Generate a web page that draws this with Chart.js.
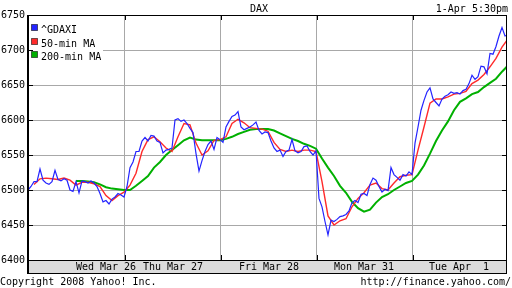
<!DOCTYPE html>
<html>
<head>
<meta charset="utf-8">
<script src="https://cdn.jsdelivr.net/npm/chart.js@4/dist/chart.umd.min.js"></script>
<style>
  html, body { margin: 0; padding: 0; background: #fff; }
</style>
</head>
<body>
<canvas id="grafico" width="512" height="288"></canvas>
<script>
// nombres de las series
var seriesNames = ["^GDAXI", "50-min MA", "200-min MA"];

// etiquetas de los días y su posición (en intervalos desde el inicio)
var dayLabels = ["Wed Mar 26", "Thu Mar 27", "Fri Mar 28", "Mon Mar 31", "Tue Apr  1"];
var dayLabelPos = [78, 145, 241, 336, 431];
var dayBreaks = [96.5, 192.5, 288.5, 384.5];
var yTicks = [6400, 6450, 6500, 6550, 6600, 6650, 6700, 6750];

// ^GDAXI, un valor cada 3 intervalos
var gdaxi = [
  6500, 6505, 6512, 6512, 6530, 6514, 6510, 6508, 6512, 6528,
  6515, 6513, 6516, 6514, 6500, 6498, 6512, 6496, 6513, 6512,
  6510, 6513, 6510, 6505, 6495, 6483, 6485, 6480, 6487, 6490,
  6495, 6493, 6490, 6505, 6532, 6540, 6555, 6555, 6570, 6575,
  6570, 6578, 6577, 6570, 6568, 6553, 6557, 6558, 6560, 6600,
  6602, 6598, 6600, 6595,
  6588, 6582, 6552, 6527, 6542, 6555, 6565, 6570, 6558, 6575,
  6572, 6568, 6590, 6598, 6605, 6607, 6612, 6590, 6586, 6588,
  6590, 6593, 6597, 6585, 6580, 6583, 6582, 6570, 6560, 6555,
  6557, 6548, 6555, 6557, 6572, 6556, 6553, 6555, 6562, 6563,
  6555, 6550, 6556, 6488, 6476, 6455, 6436, 6457, 6455, 6458,
  6462, 6463,
  6465, 6470, 6482, 6485, 6482, 6494, 6495, 6492, 6508, 6517,
  6514, 6505, 6497, 6501, 6499, 6532, 6522, 6518, 6514, 6522,
  6520, 6526, 6522, 6567, 6590, 6614, 6628, 6640, 6646, 6630,
  6625, 6620, 6630, 6634, 6636, 6640, 6638, 6639, 6637, 6642,
  6644, 6652, 6664, 6658, 6662, 6677, 6676, 6666, 6695, 6694,
  6705, 6720, 6732, 6720, 6722
];

// media móvil de 50 minutos, un valor cada 6 intervalos desde el 6
var ma50 = [
  6508, 6516, 6517, 6516, 6515, 6517, 6514, 6507, 6511, 6511,
  6509, 6505, 6492, 6485, 6492, 6497, 6507, 6524, 6555, 6572,
  6576, 6569, 6560, 6555, 6576, 6595,
  6593, 6567, 6550, 6556, 6571, 6572, 6576, 6595, 6601, 6596,
  6589, 6588, 6587, 6584, 6568, 6558, 6555, 6557, 6555, 6557,
  6557, 6555, 6512, 6463, 6450, 6456,
  6459, 6476, 6488, 6496, 6507, 6510, 6502, 6500, 6510, 6519,
  6521, 6522, 6557, 6590, 6624, 6630, 6630, 6633, 6637, 6638,
  6641, 6652, 6657, 6665, 6676, 6688, 6704, 6716
];

// media móvil de 200 minutos, un valor cada 6 intervalos desde el 48
var ma200 = [
  6513, 6513, 6512, 6511, 6508, 6504, 6502, 6501, 6500, 6500,
  6506, 6513, 6520, 6532, 6540, 6550, 6557, 6564, 6571,
  6575, 6572, 6571, 6571, 6571, 6571, 6573, 6576, 6580, 6583,
  6586, 6587, 6587, 6587, 6585, 6581, 6577, 6573, 6570, 6566,
  6563, 6559, 6545, 6532, 6520, 6506,
  6496, 6483, 6474, 6469, 6472, 6482, 6490, 6494, 6500, 6505,
  6510, 6513, 6522, 6535, 6552, 6570, 6585, 6598, 6614, 6626,
  6631, 6637, 6640, 6647, 6653, 6659, 6669, 6678
];

function puntos(valores, inicio, paso) {
  return valores.map(function (v, i) {
    return { x: inicio + i * paso, y: v };
  });
}

var fuente = { family: "'DejaVu Sans Mono', monospace", size: 10 };
var colores = ["#2424ff", "#ff2a2a", "#00b000"];

// marco, banda del eje x, leyenda y textos
var marco = {
  id: "marco",
  beforeDraw: function (chart) {
    var c = chart.ctx, a = chart.chartArea;
    c.save();
    c.fillStyle = "#fff";
    c.fillRect(0, 0, chart.width, chart.height);
    c.fillStyle = "#dcdcdc";
    c.fillRect(a.left, a.bottom, a.right - a.left, 13);
    c.restore();
  },
  afterDatasetsDraw: function (chart) {
    var c = chart.ctx, a = chart.chartArea;
    var ys = chart.scales.y, xs = chart.scales.x;
    c.save();
    // leyenda
    c.fillStyle = "#fff";
    c.fillRect(a.left, a.top, 75, 47);
    c.font = "10px 'DejaVu Sans Mono', monospace";
    c.textBaseline = "alphabetic";
    for (var i = 0; i < seriesNames.length; i++) {
      var top = a.top + 9 + i * 13.5;
      c.fillStyle = colores[i];
      c.fillRect(a.left + 3.5, Math.round(top) + 0.5, 6, 6);
      c.strokeStyle = "rgba(0,0,0,0.55)";
      c.lineWidth = 1;
      c.strokeRect(a.left + 3.5, Math.round(top) + 0.5, 6, 6);
      c.fillStyle = "#000";
      c.fillText(seriesNames[i], a.left + 13, Math.round(top) + 9);
    }
    // marcas interiores
    c.strokeStyle = "#000";
    c.lineWidth = 1;
    c.beginPath();
    yTicks.forEach(function (v) {
      var p = Math.round(ys.getPixelForValue(v)) + 0.5;
      c.moveTo(a.left, p); c.lineTo(a.left + 5, p);
      c.moveTo(a.right - 5, p); c.lineTo(a.right, p);
    });
    dayBreaks.forEach(function (v) {
      var p = Math.round(xs.getPixelForValue(v)) + 0.5;
      c.moveTo(p, a.top); c.lineTo(p, a.top + 5);
      c.moveTo(p, a.bottom - 5); c.lineTo(p, a.bottom);
    });
    c.stroke();
    // borde
    c.beginPath();
    c.moveTo(a.left, a.top + 0.5); c.lineTo(a.right, a.top + 0.5);
    c.moveTo(a.right - 0.5, a.top); c.lineTo(a.right - 0.5, a.bottom + 13);
    c.moveTo(a.left, a.bottom + 0.5); c.lineTo(a.right, a.bottom + 0.5);
    c.moveTo(a.left, a.bottom + 13.5); c.lineTo(a.right, a.bottom + 13.5);
    c.stroke();
    c.fillStyle = "#000";
    c.fillRect(a.left - 1, a.top, 2, a.bottom - a.top + 14);
    c.restore();
  },
  afterDraw: function (chart) {
    var c = chart.ctx;
    c.save();
    c.fillStyle = "#000";
    c.font = "10px 'DejaVu Sans Mono', monospace";
    c.textBaseline = "alphabetic";
    c.textAlign = "center";
    c.fillText("DAX", 259, 12);
    c.textAlign = "right";
    c.fillText("1-Apr 5:30pm", 508, 12);
    c.fillText("http://finance.yahoo.com/", 511, 285);
    c.textAlign = "left";
    c.fillText("Copyright 2008 Yahoo! Inc.", 0, 285);
    c.restore();
  }
};

var ctx = document.getElementById("grafico").getContext("2d");

var grafico = new Chart(ctx, {
  type: "line",
  data: {
    datasets: [
      {
        label: seriesNames[0],
        data: puntos(gdaxi, 0, 3),
        borderColor: colores[0],
        borderWidth: 1.2
      },
      {
        label: seriesNames[1],
        data: puntos(ma50, 6, 6),
        borderColor: colores[1],
        borderWidth: 1.4
      },
      {
        label: seriesNames[2],
        data: puntos(ma200, 48, 6),
        borderColor: colores[2],
        borderWidth: 2
      }
    ]
  },
  options: {
    responsive: false,
    animation: false,
    events: [],
    layout: { padding: { top: 15, right: 5, left: 0, bottom: 0 } },
    elements: {
      point: { radius: 0 },
      line: { tension: 0, fill: false }
    },
    plugins: {
      legend: { display: false },
      tooltip: { enabled: false },
      title: { display: false }
    },
    scales: {
      x: {
        type: "linear",
        position: "bottom",
        min: 0,
        max: 479,
        afterBuildTicks: function (s) {
          s.ticks = dayBreaks.map(function (v) { return { value: v }; });
        },
        afterFit: function (s) { s.height = 0; },
        grid: { color: "#a8a8a8", lineWidth: 1, drawTicks: false },
        border: { display: false },
        ticks: { display: false }
      },
      xl: {
        type: "linear",
        position: "bottom",
        min: 0,
        max: 479,
        afterBuildTicks: function (s) {
          s.ticks = dayLabelPos.map(function (v) { return { value: v }; });
        },
        afterFit: function (s) { s.height = 28; },
        grid: { display: false, drawTicks: false },
        border: { display: false },
        ticks: {
          autoSkip: false,
          maxRotation: 0,
          padding: 1,
          color: "#000",
          font: fuente,
          callback: function (v, i) { return dayLabels[i]; }
        }
      },
      y: {
        type: "linear",
        min: 6400,
        max: 6750,
        afterBuildTicks: function (s) {
          s.ticks = yTicks.map(function (v) { return { value: v }; });
        },
        afterFit: function (s) { s.width = 28; },
        grid: { color: "#a8a8a8", lineWidth: 1, drawTicks: false },
        border: { display: false },
        ticks: {
          padding: 3,
          color: "#000",
          font: fuente,
          callback: function (v) { return String(v); }
        }
      }
    }
  },
  plugins: [marco]
});
</script>
</body>
</html>
